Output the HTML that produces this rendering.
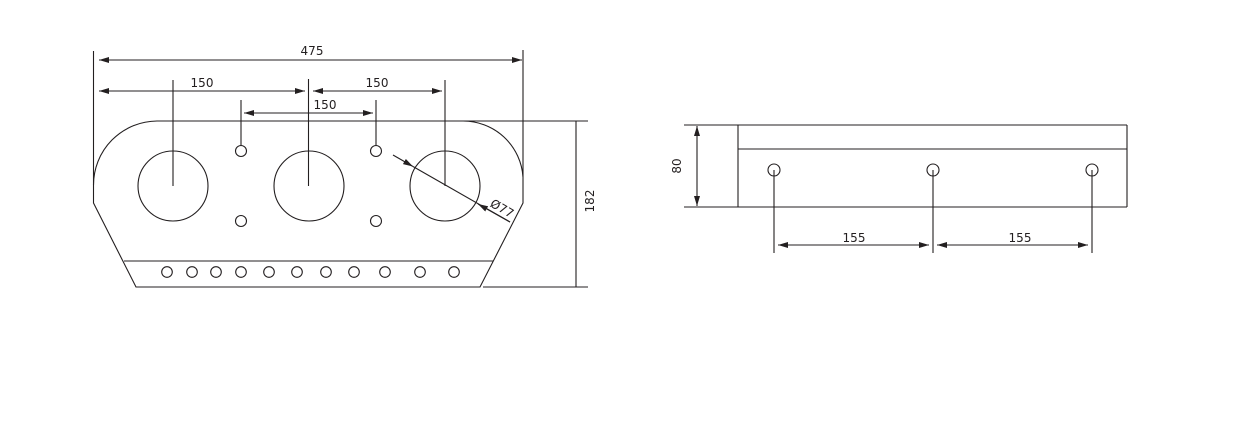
<!DOCTYPE html>
<html><head><meta charset="utf-8"><style>
html,body{margin:0;padding:0;background:#fff;}
svg{display:block;}
text{font-family:"DejaVu Sans","Liberation Sans",sans-serif;font-size:12px;fill:#231f20;}
</style></head><body>
<svg width="1233" height="437" viewBox="0 0 1233 437" xmlns="http://www.w3.org/2000/svg">
<defs>
<marker id="a" viewBox="0 0 10 6" refX="10" refY="3" markerWidth="10" markerHeight="6" markerUnits="userSpaceOnUse" orient="auto-start-reverse">
<path d="M0,0 L10,3 L0,6 z" fill="#231f20"/>
</marker>
</defs>
<g stroke="#231f20" stroke-width="1.1" fill="none">
<!-- outline left view -->
<path d="M93.5,203 L93.5,185 A64,64 0 0 1 157,121 L463,121 A60,60 0 0 1 523,177 L523,203 L480,287 L136,287 Z"/>
<line x1="124" y1="261" x2="493" y2="261"/>
<circle cx="173" cy="186" r="35"/>
<circle cx="309" cy="186" r="35"/>
<circle cx="445" cy="186" r="35"/>
<circle cx="241" cy="151" r="5.5"/>
<circle cx="376" cy="151" r="5.5"/>
<circle cx="241" cy="221" r="5.5"/>
<circle cx="376" cy="221" r="5.5"/>
<g>
<circle cx="167" cy="272" r="5.3"/><circle cx="192" cy="272" r="5.3"/><circle cx="216" cy="272" r="5.3"/><circle cx="241" cy="272" r="5.3"/><circle cx="269" cy="272" r="5.3"/><circle cx="297" cy="272" r="5.3"/><circle cx="326" cy="272" r="5.3"/><circle cx="354" cy="272" r="5.3"/><circle cx="385" cy="272" r="5.3"/><circle cx="420" cy="272" r="5.3"/><circle cx="454" cy="272" r="5.3"/>
</g>
<!-- extension lines -->
<line x1="93.5" y1="51" x2="93.5" y2="185"/>
<line x1="523" y1="50" x2="523" y2="177"/>
<line x1="173" y1="80" x2="173" y2="186"/>
<line x1="308.5" y1="79" x2="308.5" y2="186"/>
<line x1="445" y1="80" x2="445" y2="186"/>
<line x1="241" y1="100" x2="241" y2="145"/>
<line x1="376" y1="100" x2="376" y2="145"/>
<line x1="463" y1="121" x2="588" y2="121"/>
<line x1="483" y1="287" x2="588" y2="287"/>
<!-- dims -->
<line x1="99" y1="60" x2="522" y2="60" marker-start="url(#a)" marker-end="url(#a)"/>
<line x1="99" y1="91" x2="305" y2="91" marker-start="url(#a)" marker-end="url(#a)"/>
<line x1="313" y1="91" x2="442" y2="91" marker-start="url(#a)" marker-end="url(#a)"/>
<line x1="244" y1="113" x2="373" y2="113" marker-start="url(#a)" marker-end="url(#a)"/>
<line x1="576" y1="121" x2="576" y2="287"/>
<line x1="393" y1="155" x2="413" y2="166.5" marker-end="url(#a)"/>
<line x1="413" y1="166.5" x2="510" y2="222"/>
<line x1="510" y1="222" x2="478" y2="204" marker-end="url(#a)"/>
<!-- right view -->
<line x1="684" y1="125" x2="1127" y2="125"/>
<line x1="684" y1="207" x2="1127" y2="207"/>
<line x1="1127" y1="125" x2="1127" y2="207"/>
<line x1="738" y1="125" x2="738" y2="207"/>
<line x1="738" y1="149" x2="1127" y2="149"/>
<line x1="697" y1="126" x2="697" y2="206" marker-start="url(#a)" marker-end="url(#a)"/>
<circle cx="774" cy="170" r="6"/>
<circle cx="933" cy="170" r="6"/>
<circle cx="1092" cy="170" r="6"/>
<line x1="774" y1="170" x2="774" y2="253"/>
<line x1="933" y1="170" x2="933" y2="253"/>
<line x1="1092" y1="170" x2="1092" y2="253"/>
<line x1="778" y1="245" x2="929" y2="245" marker-start="url(#a)" marker-end="url(#a)"/>
<line x1="937" y1="245" x2="1088" y2="245" marker-start="url(#a)" marker-end="url(#a)"/>
</g>
<g stroke="none">
<text x="312" y="55" text-anchor="middle">475</text>
<text x="202" y="87" text-anchor="middle">150</text>
<text x="377" y="87" text-anchor="middle">150</text>
<text x="325" y="109" text-anchor="middle">150</text>
<text transform="translate(594,201) rotate(-90)" text-anchor="middle">182</text>
<text transform="translate(500,212) rotate(30)" text-anchor="middle">Ø77</text>
<text transform="translate(681,166) rotate(-90)" text-anchor="middle">80</text>
<text x="854" y="242" text-anchor="middle">155</text>
<text x="1020" y="242" text-anchor="middle">155</text>
</g>
</svg>
</body></html>
